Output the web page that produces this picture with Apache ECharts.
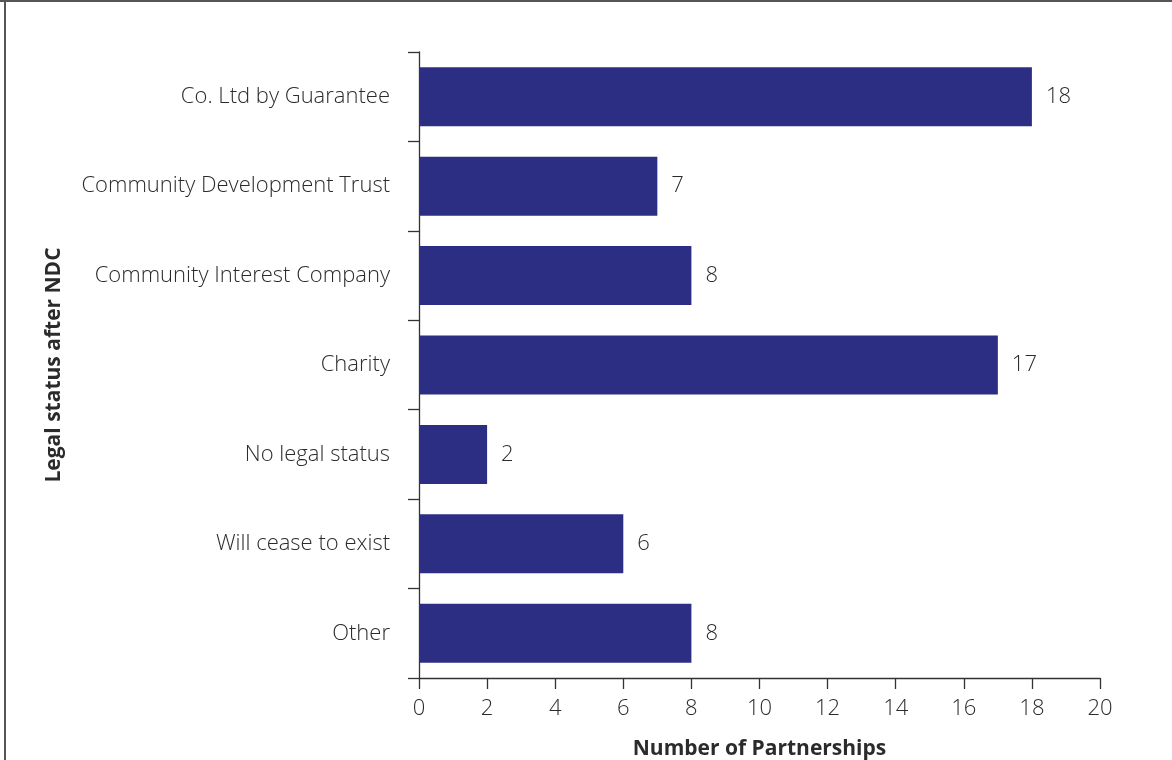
<!DOCTYPE html>
<html>
<head>
<meta charset="utf-8">
<script src="https://cdn.jsdelivr.net/npm/echarts@6/dist/echarts.min.js"></script>
<style>
  html, body { margin: 0; padding: 0; background: #fff; }
  #chart { width: 1172px; height: 760px; }
</style>
</head>
<body>
<div id="chart"></div>
<script>
// Legal status of partnerships after NDC (listed bottom to top for the category axis)
const categories = [
  'Other',
  'Will cease to exist',
  'No legal status',
  'Charity',
  'Community Interest Company',
  'Community Development Trust',
  'Co. Ltd by Guarantee'
];
const partnerships = [8, 6, 2, 17, 8, 7, 18];
const xTicks = { min: 0, max: 20, interval: 2 };

const FONT = '"Open Sans", "Noto Sans", sans-serif';
const TEXT = '#2b2b2b';
const LINE = '#333';
const SIZE = 22;

const chart = echarts.init(document.getElementById('chart'), null, { renderer: 'canvas' });

chart.setOption({
  animation: false,
  backgroundColor: '#fff',
  textStyle: { fontFamily: FONT },
  grid: {
    left: 419, right: 72, top: 52, bottom: 82,
    containLabel: false,
    outerBoundsMode: 'none'
  },
  graphic: [
    // frame along the top and left edges
    { type: 'line', shape: { x1: 0, y1: 1, x2: 1172, y2: 1 }, style: { stroke: '#555', lineWidth: 2 } },
    { type: 'line', shape: { x1: 5, y1: 0, x2: 5, y2: 760 }, style: { stroke: '#555', lineWidth: 2 } }
  ],
  xAxis: {
    type: 'value',
    min: xTicks.min,
    max: xTicks.max,
    interval: xTicks.interval,
    name: 'Number of Partnerships',
    nameLocation: 'middle',
    nameGap: 61,
    nameTextStyle: { fontFamily: FONT, fontSize: 21, fontWeight: 'bold', color: TEXT },
    axisLine: { show: true, lineStyle: { color: LINE, width: 1.3 } },
    axisTick: { show: true, length: 11, lineStyle: { color: LINE, width: 1.3 } },
    axisLabel: { fontFamily: FONT, fontSize: SIZE, fontWeight: 300, color: TEXT, margin: 20 },
    splitLine: { show: false }
  },
  yAxis: {
    type: 'category',
    data: categories,
    name: 'Legal status after NDC',
    nameLocation: 'middle',
    nameGap: 354,
    nameRotate: 90,
    nameTextStyle: { fontFamily: FONT, fontSize: 21, fontWeight: 'bold', color: TEXT },
    axisLine: { show: true, lineStyle: { color: LINE, width: 1.3 } },
    axisTick: { show: true, length: 11, lineStyle: { color: LINE, width: 1.3 } },
    axisLabel: { fontFamily: FONT, fontSize: SIZE, fontWeight: 300, color: TEXT, margin: 29 },
    splitLine: { show: false }
  },
  series: [{
    type: 'bar',
    data: partnerships,
    barWidth: 59,
    itemStyle: { color: '#2b2e83' },
    label: {
      show: true,
      position: 'right',
      distance: 14,
      fontFamily: FONT,
      fontSize: SIZE,
      fontWeight: 300,
      color: TEXT
    }
  }]
});
</script>
</body>
</html>
